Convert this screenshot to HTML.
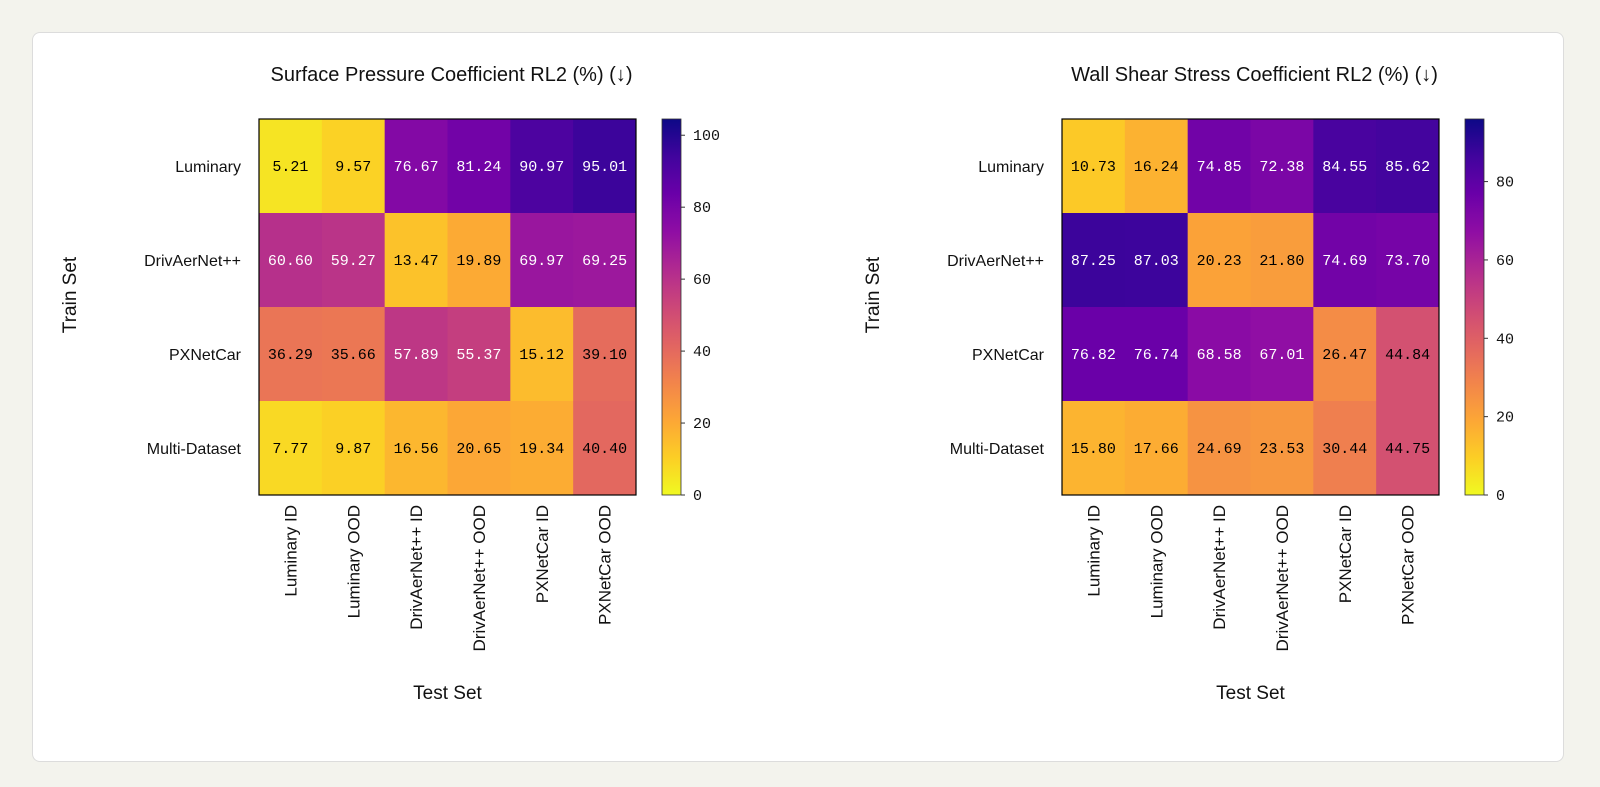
<!DOCTYPE html>
<html><head><meta charset="utf-8"><style>
html,body{margin:0;padding:0;background:#f3f3ed;}
#card{position:absolute;left:32px;top:32px;width:1532px;height:730px;background:#fff;border:1px solid #dcdcdc;border-radius:8px;box-sizing:border-box;}
svg{position:absolute;left:0;top:0;}
.s{font-family:"Liberation Sans",sans-serif;fill:#111;}
.m{font-family:"Liberation Mono",monospace;}
</style></head><body>
<div id="card"></div>
<svg id="svg" width="1600" height="787"></svg>
<script>
const rowLabels=["Luminary","DrivAerNet++","PXNetCar","Multi-Dataset"];
const colLabels=["Luminary ID","Luminary OOD","DrivAerNet++ ID","DrivAerNet++ OOD","PXNetCar ID","PXNetCar OOD"];
const pressureValues=[[5.21,9.57,76.67,81.24,90.97,95.01],[60.60,59.27,13.47,19.89,69.97,69.25],[36.29,35.66,57.89,55.37,15.12,39.10],[7.77,9.87,16.56,20.65,19.34,40.40]];
const shearValues=[[10.73,16.24,74.85,72.38,84.55,85.62],[87.25,87.03,20.23,21.80,74.69,73.70],[76.82,76.74,68.58,67.01,26.47,44.84],[15.80,17.66,24.69,23.53,30.44,44.75]];
const pressureTicks=[0,20,40,60,80,100];
const shearTicks=[0,20,40,60,80];
const titles=["Surface Pressure Coefficient RL2 (%) (\u2193)","Wall Shear Stress Coefficient RL2 (%) (\u2193)"];
const plasma=["#0d0887","#41049d","#6a00a8","#8f0da4","#b12a90","#cc4778","#e16462","#f2844b","#fca636","#fcce25","#f0f921"];
function hex(h){return [1,3,5].map(i=>parseInt(h.substr(i,2),16));}
function cmap(t){t=Math.max(0,Math.min(1,t));t=1-t;const p=t*10,i=Math.min(9,Math.floor(p)),f=p-i;const a=hex(plasma[i]),b=hex(plasma[i+1]);return "rgb("+a.map((v,k)=>Math.round(v+(b[k]-v)*f)).join(",")+")";}
const svg=document.getElementById('svg');const NS="http://www.w3.org/2000/svg";
function el(tag,attrs,parent){const e=document.createElementNS(NS,tag);for(const k in attrs)e.setAttribute(k,attrs[k]);(parent||svg).appendChild(e);return e;}
function draw(x0,vals,ticks,title,idx){
  const y0=119,W=377,H=376,cw=W/colLabels.length,rh=H/rowLabels.length;
  let mx=0;vals.forEach(r=>r.forEach(v=>mx=Math.max(mx,v)));const vmax=mx*1.1;
  const g=el('g',{});
  
  
  const t=el('text',{x:x0+W/2+4,y:81,'text-anchor':'middle','font-size':20,class:'s'},g);t.textContent=title;
  
  
  vals.forEach((row,r)=>row.forEach((v,c)=>{
    const rc=el('rect',{x:x0+c*cw,y:y0+r*rh,width:cw+0.5,height:rh+0.5,fill:cmap(v/vmax)},g);
    
    
    const tx=el('text',{x:x0+c*cw+cw/2,y:y0+r*rh+rh/2+5,'text-anchor':'middle','font-size':15,class:'m',fill:v/vmax>0.5?'#fff':'#000'},g);tx.textContent=v.toFixed(2);
    
    
  }));
  el('rect',{x:x0,y:y0,width:W,height:H,fill:'none',stroke:'#000','stroke-width':1.2},g);
  rowLabels.forEach((l,r)=>{const tx=el('text',{x:x0-18,y:y0+r*rh+rh/2+6,'text-anchor':'end','font-size':16,class:'s'},g);tx.textContent=l;
    
    });
  colLabels.forEach((l,c)=>{const cx=x0+c*cw+cw/2+6;const tx=el('text',{x:0,y:0,transform:'translate('+cx+',505) rotate(-90)','text-anchor':'end','font-size':17,class:'s'},g);tx.textContent=l;
    
    });
  const yl=el('text',{x:0,y:0,transform:'translate('+(x0-183)+',295) rotate(-90)','text-anchor':'middle','font-size':19,class:'s'},g);yl.textContent="Train Set";
  
  
  const xl=el('text',{x:x0+W/2,y:699,'text-anchor':'middle','font-size':19,class:'s'},g);xl.textContent="Test Set";
  
  
  const bx=x0+W+26,bw=19;
  const gid='grad'+idx;const defs=el('defs',{},g);const lg=el('linearGradient',{id:gid,x1:0,y1:1,x2:0,y2:0},defs);
  for(let i=0;i<=20;i++){el('stop',{offset:i/20,'stop-color':cmap(i/20)},lg);}
  const cb=el('rect',{x:bx,y:y0,width:bw,height:H,fill:'url(#'+gid+')',stroke:'#333','stroke-width':0.8},g);
  
  
  ticks.forEach(tv=>{const ty=y0+H-tv/vmax*H;el('line',{x1:bx+bw,x2:bx+bw+4,y1:ty,y2:ty,stroke:'#333'},g);
    const tt=el('text',{x:bx+bw+12,y:ty+5,'font-size':15,class:'m',fill:'#111'},g);tt.textContent=tv;
    
    });
}
draw(259,pressureValues,pressureTicks,titles[0],0);
draw(1062,shearValues,shearTicks,titles[1],1);
</script>
</body></html>
